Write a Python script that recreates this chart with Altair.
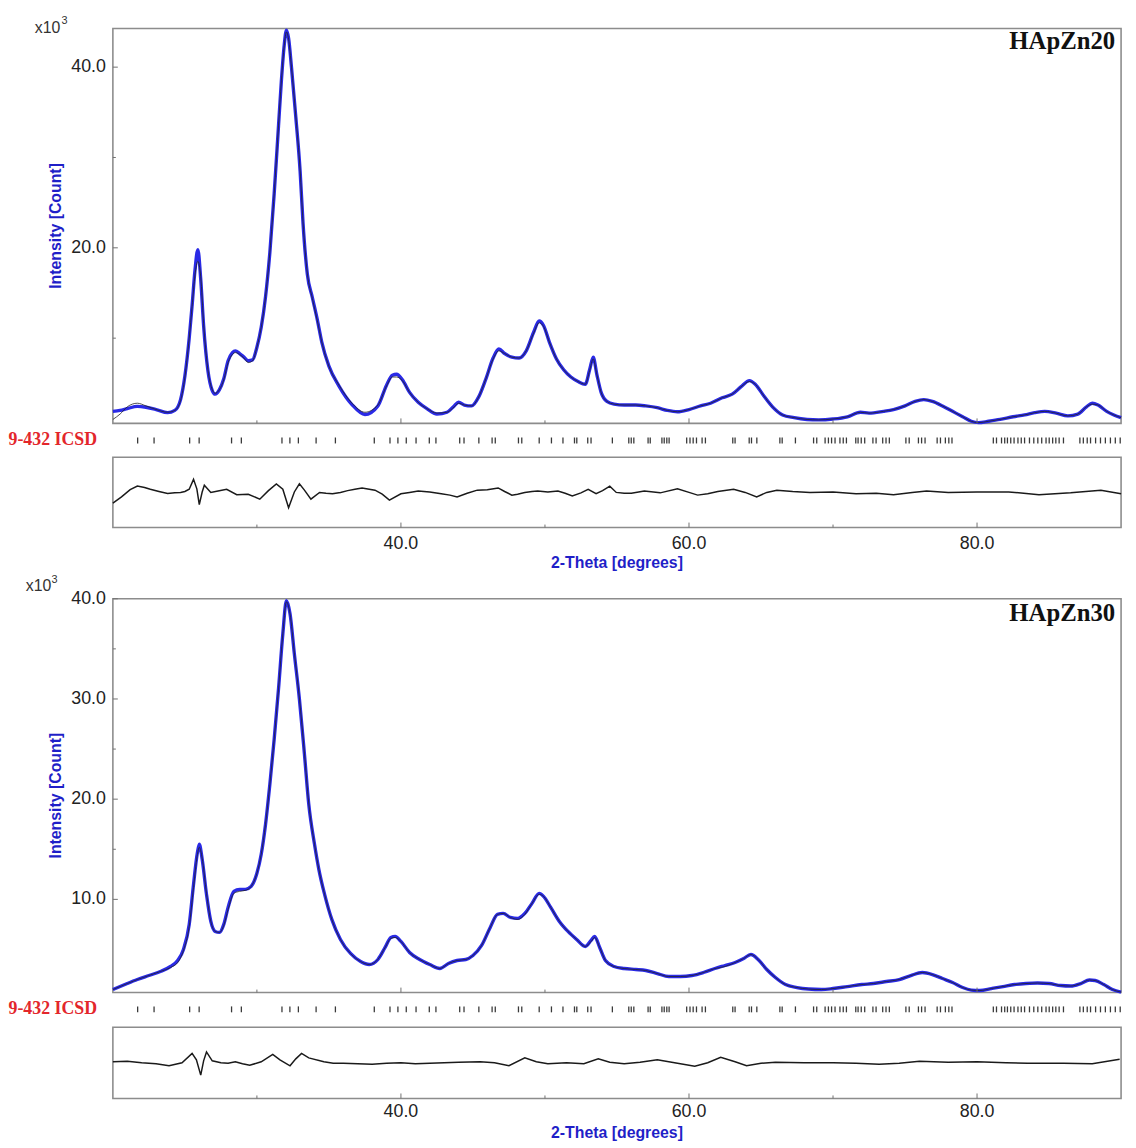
import altair as alt
import pandas as pd

# ---------------- data ----------------
# Panel 1 : HApZn20  (2-theta in degrees, intensity in 10^3 counts)
TT1 = [20.0, 20.5, 21.0, 21.7, 22.3, 23.0, 23.8, 24.3, 24.7, 25.0, 25.3, 25.5, 25.7, 25.9,
       26.1, 26.3, 26.6, 26.9, 27.1, 27.4, 27.7, 28.0, 28.3, 28.5, 28.8, 29.1, 29.4, 29.7,
       30.0, 30.3, 30.6, 30.9, 31.2, 31.5, 31.7, 31.9, 32.05, 32.2, 32.4, 32.7, 33.0, 33.2,
       33.5, 33.85, 34.2, 34.5, 35.0, 35.7, 36.6, 37.5, 38.4, 39.0, 39.4, 39.7, 40.1, 40.6,
       41.2, 41.8, 42.5, 43.2, 43.7, 44.0, 44.4, 44.9, 45.4, 45.9, 46.4, 46.8, 47.2, 47.7,
       48.2, 48.7, 49.2, 49.6, 49.9, 50.3, 50.8, 51.3, 51.8, 52.3, 52.8, 53.1, 53.35, 53.6,
       53.9, 54.3, 54.8, 55.5, 56.3, 57.0, 57.8, 58.5, 59.2, 60.0, 60.8, 61.5, 62.3, 63.0,
       63.6, 64.2, 64.6, 65.2, 65.8, 66.5, 67.3, 68.2, 69.0, 70.0, 71.0, 71.9, 72.5, 73.5,
       74.2, 75.0, 75.7, 76.3, 76.9, 77.6, 78.3, 79.0, 79.6, 80.1, 80.8, 81.6, 82.5, 83.3,
       84.0, 84.7, 85.5, 86.3, 87.0, 87.6, 88.0, 88.4, 89.0, 89.5, 90.0]
OBS1 = [1.9, 2.0, 2.2, 2.45, 2.35, 2.1, 1.75, 2.0, 3.2, 5.8, 10.0, 13.6, 17.5, 19.8,
        16.5, 11.4, 6.4, 4.2, 3.8, 4.3, 5.5, 7.5, 8.4, 8.6, 8.3, 7.9, 7.5, 7.6,
        9.0, 11.2, 14.6, 19.5, 26.0, 33.5, 38.5, 42.5, 44.1, 43.2, 40.0, 34.5, 28.5, 22.8,
        17.1, 14.5, 12.0, 9.6, 6.9, 4.7, 2.65, 1.55, 2.5, 4.8, 5.9, 6.0, 5.4, 4.0,
        2.9, 2.2, 1.6, 1.8, 2.5, 2.9, 2.6, 2.5, 3.5, 5.5, 7.8, 8.8, 8.3, 7.9,
        7.8, 8.6, 10.6, 11.9, 11.4, 9.6, 7.7, 6.5, 5.7, 5.2, 4.9, 6.5, 7.9, 6.0,
        4.0, 3.0, 2.7, 2.6, 2.6, 2.5, 2.3, 2.0, 1.85, 2.1, 2.5, 2.8, 3.4, 3.8,
        4.6, 5.3, 4.9, 3.6, 2.4, 1.5, 1.2, 1.0, 0.95, 1.05, 1.3, 1.8, 1.7, 1.9,
        2.1, 2.5, 3.0, 3.2, 3.0, 2.5, 1.9, 1.3, 0.8, 0.65, 0.8, 1.0, 1.3, 1.5,
        1.75, 1.9, 1.7, 1.4, 1.6, 2.4, 2.8, 2.6, 1.9, 1.5, 1.2]
CALC1 = [1.0, 1.6, 2.4, 2.8, 2.5, 2.1, 1.8, 2.0, 3.1, 5.7, 10.0, 13.5, 17.0, 18.5,
         16.8, 11.6, 6.5, 4.3, 3.9, 4.3, 5.4, 7.3, 8.2, 8.4, 8.2, 7.8, 7.3, 7.5,
         9.0, 11.2, 14.6, 19.5, 26.0, 33.5, 38.5, 42.4, 43.9, 43.1, 40.0, 34.6, 28.6, 22.9,
         17.2, 14.4, 11.9, 9.6, 6.9, 4.8, 2.8, 1.8, 2.6, 4.7, 5.7, 5.7, 5.3, 4.0,
         2.9, 2.2, 1.7, 1.8, 2.4, 2.8, 2.6, 2.5, 3.5, 5.5, 7.7, 8.6, 8.3, 7.9,
         7.8, 8.6, 10.5, 11.7, 11.3, 9.6, 7.7, 6.5, 5.7, 5.2, 4.9, 6.4, 7.7, 6.0,
         4.0, 3.0, 2.7, 2.6, 2.6, 2.5, 2.3, 2.0, 1.85, 2.1, 2.5, 2.8, 3.4, 3.8,
         4.6, 5.2, 4.9, 3.6, 2.4, 1.5, 1.2, 1.0, 0.95, 1.05, 1.3, 1.8, 1.7, 1.9,
         2.1, 2.5, 3.0, 3.2, 3.0, 2.5, 1.9, 1.3, 0.8, 0.65, 0.8, 1.0, 1.3, 1.5,
         1.75, 1.9, 1.7, 1.4, 1.6, 2.4, 2.7, 2.6, 1.9, 1.5, 1.2]
DTT1 = [20.0, 20.6, 21.2, 21.7, 22.2, 22.6, 23.2, 23.8, 24.3, 24.7, 25.0, 25.3, 25.6, 25.83,
        26.0, 26.2, 26.35, 26.8, 27.3, 27.9, 28.6, 29.4, 30.2, 30.8, 31.35, 31.8, 32.2,
        32.6, 32.95, 33.3, 33.75, 34.35, 34.8, 35.25, 35.8, 36.3, 36.8, 37.3, 38.2, 38.7,
        39.2, 40.0, 40.6, 41.2, 42.0, 42.8, 43.4, 43.9, 44.6, 45.3, 46.0, 46.75, 47.2, 47.7,
        48.1, 48.6, 49.1, 49.5, 50.2, 50.9, 51.4, 51.9, 52.5, 53.0, 53.55, 54.0, 54.5,
        54.95, 55.5, 56.0, 56.9, 58.0, 59.2, 60.0, 60.6, 61.3, 62.0, 63.1, 63.9, 64.7,
        65.4, 66.1, 67.2, 68.4, 70.0, 71.6, 73.0, 74.2, 75.5, 76.5, 78.0, 80.0, 82.2,
        84.3, 86.5, 88.6, 90.0]
DIFF1 = [-1.2, -0.5, 0.3, 0.7, 0.55, 0.35, 0.1, -0.13, -0.05, 0.0, 0.1, 0.35, 1.45, 0.4,
         -1.35, 0.05, 0.8, 0.0, 0.15, 0.35, -0.25, -0.2, -0.75, 0.2, 0.95, 0.35, -1.7,
         0.05, 0.95, 0.25, -0.75, 0.0, -0.1, -0.15, 0.0, 0.2, 0.35, 0.5, 0.25, -0.2,
         -0.85, -0.15, 0.0, 0.15, 0.05, -0.15, -0.3, -0.5, -0.1, 0.25, 0.3, 0.5, 0.1, -0.3,
         -0.2, 0.0, 0.1, 0.15, 0.05, 0.15, -0.1, -0.4, -0.05, 0.35, -0.15, 0.2, 0.7,
         0.0, -0.1, -0.1, 0.15, -0.05, 0.4, 0.0, -0.3, -0.15, 0.1, 0.35, 0.0, -0.5,
         0.0, 0.25, 0.1, 0.0, 0.05, -0.15, -0.1, -0.25, 0.0, 0.15, 0.0, 0.05, 0.05,
         -0.25, -0.05, 0.25, -0.15]

# Panel 2 : HApZn30
TT2 = [20.0, 20.5, 21.0, 21.7, 22.5, 23.3, 24.0, 24.5, 24.9, 25.3, 25.6, 25.85, 26.0,
       26.2, 26.5, 26.8, 27.1, 27.4, 27.7, 28.0, 28.4, 28.8, 29.2, 29.6, 30.0, 30.3,
       30.6, 30.9, 31.2, 31.5, 31.8, 32.05, 32.3, 32.6, 32.95, 33.3, 33.6, 34.0, 34.3,
       34.7, 35.2, 35.8, 36.5, 37.2, 37.8, 38.4, 38.9, 39.3, 39.6, 40.0, 40.6, 41.3,
       42.0, 42.7, 43.3, 43.9, 44.5, 45.0, 45.6, 46.2, 46.7, 47.1, 47.6, 48.1, 48.6,
       49.1, 49.6, 49.9, 50.4, 51.0, 51.6, 52.2, 52.8, 53.2, 53.45, 53.8, 54.2, 54.8,
       55.5, 56.3, 57.0, 57.8, 58.6, 59.4, 60.2, 61.0, 61.8, 62.5, 63.2, 63.8, 64.3,
       64.8, 65.4, 66.0, 66.7, 67.5, 68.3, 69.2, 70.0, 71.0, 72.0, 72.8, 73.7, 74.6,
       75.4, 76.2, 76.9, 77.6, 78.3, 79.0, 79.6, 80.2, 81.0, 81.8, 82.6, 83.4, 84.2,
       85.0, 85.8, 86.5, 87.2, 87.8, 88.2, 88.8, 89.4, 90.0]
OBS2 = [1.0, 1.3, 1.6, 2.0, 2.4, 2.8, 3.3, 3.9, 5.0, 7.5, 11.5, 14.5, 15.5,
        14.0, 10.5, 7.8, 6.8, 6.7, 7.5, 9.2, 10.8, 11.0, 11.0, 11.3, 12.6, 14.5,
        17.5, 21.5, 26.0, 31.0, 36.5, 39.8, 38.5, 34.5, 30.0, 24.5, 19.5, 15.5, 13.0,
        10.5, 8.0, 6.0, 4.6, 3.8, 3.5, 4.0, 5.2, 6.2, 6.3, 5.8, 4.7, 4.0,
        3.5, 3.1, 3.6, 3.9, 4.0, 4.4, 5.4, 7.2, 8.5, 8.6, 8.2, 8.1, 8.6,
        9.6, 10.6, 10.3, 9.2, 7.8, 6.8, 6.0, 5.3, 5.9, 6.3, 5.2, 3.9, 3.3,
        3.1, 3.0, 2.9, 2.6, 2.3, 2.3, 2.4, 2.7, 3.1, 3.4, 3.7, 4.1, 4.5,
        4.0, 3.0, 2.2, 1.5, 1.2, 1.05, 1.0, 1.1, 1.3, 1.5, 1.6, 1.8, 2.0,
        2.4, 2.7, 2.5, 2.1, 1.7, 1.2, 0.95, 0.9, 1.1, 1.3, 1.5, 1.6, 1.65,
        1.6, 1.4, 1.35, 1.6, 1.95, 1.9, 1.5, 1.0, 0.75]
CALC2 = [1.0, 1.3, 1.6, 2.0, 2.4, 2.8, 3.2, 3.7, 4.9, 7.3, 11.2, 14.3, 15.2,
         14.1, 10.6, 7.8, 6.8, 6.7, 7.4, 9.0, 10.6, 10.8, 10.9, 11.3, 12.6, 14.5,
         17.5, 21.5, 26.0, 31.0, 36.5, 39.7, 38.5, 34.6, 30.1, 24.6, 19.6, 15.5, 13.0,
         10.5, 8.0, 6.0, 4.6, 3.8, 3.5, 4.0, 5.2, 6.1, 6.2, 5.8, 4.7, 4.0,
         3.5, 3.1, 3.6, 3.9, 4.0, 4.4, 5.4, 7.2, 8.5, 8.6, 8.2, 8.0, 8.5,
         9.6, 10.5, 10.3, 9.2, 7.8, 6.8, 6.0, 5.3, 5.8, 6.2, 5.2, 3.9, 3.3,
         3.1, 3.0, 2.9, 2.6, 2.3, 2.3, 2.4, 2.7, 3.1, 3.3, 3.7, 4.1, 4.5,
         4.0, 3.0, 2.2, 1.5, 1.2, 1.05, 1.0, 1.1, 1.3, 1.5, 1.6, 1.8, 2.0,
         2.4, 2.7, 2.5, 2.1, 1.7, 1.2, 0.95, 0.9, 1.1, 1.3, 1.5, 1.6, 1.65,
         1.6, 1.4, 1.35, 1.6, 1.95, 1.9, 1.5, 1.0, 0.75]
DTT2 = [20.0, 21.0, 22.0, 23.0, 23.9, 24.8, 25.5, 25.8, 26.1, 26.3, 26.5, 26.9, 27.5,
        28.0, 28.5, 29.0, 29.5, 30.3, 31.1, 31.6, 32.3, 32.7, 33.1, 33.6, 34.65, 35.3,
        36.0, 37.0, 38.0, 39.0, 40.0, 41.0, 42.0, 43.0, 44.0, 45.5, 46.5, 47.5, 48.6,
        49.4, 50.2, 51.5, 52.7, 53.7, 54.5, 55.5, 56.6, 57.8, 59.0, 60.4, 61.3, 62.2,
        63.2, 64.0, 65.0, 66.0, 68.0, 70.0, 71.6, 73.2, 74.6, 76.0, 78.0, 80.0, 82.0,
        83.5, 86.0, 88.0, 89.9]
DIFF2 = [0.1, 0.15, 0.0, -0.1, -0.3, 0.0, 0.95, 0.3, -1.25, 0.2, 1.1, 0.2, 0.0,
         -0.05, 0.1, -0.1, -0.25, 0.1, 0.85, 0.3, -0.3, 0.4, 0.95, 0.5, 0.1, -0.05,
         -0.05, -0.1, -0.15, -0.05, 0.0, -0.1, -0.05, 0.0, 0.05, 0.1, 0.0, -0.3, 0.5,
         0.1, -0.1, 0.0, -0.1, 0.4, 0.05, -0.1, 0.05, 0.3, 0.0, -0.35, 0.0, 0.55,
         0.1, -0.3, -0.05, 0.05, 0.0, 0.0, -0.05, -0.15, -0.05, 0.15, 0.05, 0.1, 0.0,
         -0.05, -0.05, -0.1, 0.35]

# ICSD 9-432 reflection positions (2-theta)
REFL = [21.72, 22.86, 25.33, 25.99, 28.24, 28.92, 31.74, 32.29, 32.88, 34.11, 35.45,
        38.15, 39.24, 39.79, 40.37, 41.05, 41.97, 42.43, 44.08, 44.38, 45.41, 46.33,
        46.55, 48.16, 48.39, 49.60, 50.45, 51.25, 52.05, 52.21, 52.97, 53.20, 54.68,
        55.82, 55.99, 56.17, 57.16, 57.31, 58.12, 58.28, 58.46, 58.62, 59.84, 60.07,
        60.29, 60.52, 60.91, 61.14, 63.04, 63.20, 64.18, 64.34, 64.71, 66.31, 66.47,
        67.39, 68.65, 68.87, 69.45, 69.68, 69.90, 70.14, 70.48, 70.71, 70.93, 71.58,
        71.74, 71.96, 72.20, 72.77, 72.99, 73.45, 73.68, 73.91, 75.06, 75.29, 75.93,
        76.15, 76.39, 77.23, 77.46, 77.80, 78.04, 78.26, 81.13, 81.35, 81.70, 81.92,
        82.11, 82.34, 82.57, 82.84, 83.07, 83.30, 83.64, 83.94, 84.22, 84.49, 84.79,
        85.01, 85.25, 85.47, 85.70, 86.00, 87.14, 87.38, 87.65, 87.88, 88.23, 88.57,
        88.91, 89.26, 89.60, 89.94]

X_DOMAIN = [20, 90]
X_MAJOR = [40, 60, 80]
X_MINOR = [30, 50, 70]
Y1_DOMAIN = [0.57, 44.27]
Y1_MAJOR = [20, 40]
Y1_MINOR = [10, 30]
Y2_DOMAIN = [0.7, 40.0]
Y2_MAJOR = [10, 20, 30, 40]
Y2_MINOR = [15, 25, 35]
D1_DOMAIN = [-3.9, 3.9]
D2_DOMAIN = [-3.6, 3.6]
SAMPLES = ["HApZn20", "HApZn30"]
REF_LABEL = "9-432 ICSD"
Y_TITLE = "Intensity [Count]"
X_TITLE = "2-Theta [degrees]"
MULT = "x10"
MULT_EXP = "3"

# ---------------- layout (pixels inside the drawing area) ----------------
W, H = 1120, 1132
X_RANGE = [104, 1123]
P1 = dict(main=(412.7, 13.7), row=430, diff=(518, 447), lab=535, title=554,
          mult=(25, 13), exp=(52, 5.7), name_y=14)
P2 = dict(main=(988, 590), row=1005, diff=(1095, 1023), lab=1109, title=1130,
          mult=(16, 577), exp=(42, 571.5), name_y=592)

BLUE_LINE = "#2a2ae6"
BLUE_TEXT = "#1f1fc8"
FRAME = "#8c8c8c"
TICK = "#707070"
SANS = "Liberation Sans"
SERIF = "Liberation Serif"

xscale = alt.Scale(domain=X_DOMAIN, range=X_RANGE, nice=False, zero=False)
X_MID = (X_RANGE[0] + X_RANGE[1]) / 2


def tdf(s):
    return pd.DataFrame({"t": [s]})


def xq(field):
    return alt.X(field, scale=xscale, axis=None)


def frame(dom, rng):
    ys = alt.Scale(domain=dom, range=list(rng), nice=False, zero=False)
    df = pd.DataFrame({"x0": [X_DOMAIN[0]], "x1": [X_DOMAIN[1]], "y0": [dom[0]], "y1": [dom[1]]})
    return alt.Chart(df).mark_rect(filled=False, stroke=FRAME, strokeWidth=1.6).encode(
        x=xq("x0:Q"), x2="x1:Q", y=alt.Y("y0:Q", scale=ys, axis=None), y2="y1:Q")


def x_ticks(bottom):
    maj = alt.Chart(pd.DataFrame({"v": X_MAJOR})).mark_rule(color=TICK, strokeWidth=1).encode(
        x=xq("v:Q"), y=alt.value(bottom), y2=alt.value(bottom - 5))
    mino = alt.Chart(pd.DataFrame({"v": X_MINOR})).mark_rule(color=TICK, strokeWidth=1).encode(
        x=xq("v:Q"), y=alt.value(bottom), y2=alt.value(bottom - 3))
    return [maj, mino]


def panel(P, tt, obs, calc, ydom, ymaj, ymin, dtt, diff, ddom, label):
    ys = alt.Scale(domain=ydom, range=list(P["main"]), nice=False, zero=False)
    ds = alt.Scale(domain=ddom, range=list(P["diff"]), nice=False, zero=False)
    df = pd.DataFrame({"tt": tt, "obs": obs, "calc": calc})
    L = [frame(ydom, P["main"]), frame(ddom, P["diff"])]
    L.append(alt.Chart(df).mark_line(color=BLUE_LINE, strokeWidth=3.4, interpolate="monotone")
             .encode(x=xq("tt:Q"), y=alt.Y("obs:Q", scale=ys, axis=None)))
    L.append(alt.Chart(df).mark_line(color="#222222", strokeWidth=0.8, interpolate="monotone")
             .encode(x=xq("tt:Q"), y=alt.Y("calc:Q", scale=ys, axis=None)))
    L.append(alt.Chart(pd.DataFrame({"tt": dtt, "d": diff}))
             .mark_line(color="#1a1a1a", strokeWidth=1.5)
             .encode(x=xq("tt:Q"), y=alt.Y("d:Q", scale=ds, axis=None)))
    # inward ticks
    L += x_ticks(P["main"][0]) + x_ticks(P["diff"][0])
    L.append(alt.Chart(pd.DataFrame({"v": ymaj})).mark_rule(color=TICK, strokeWidth=1).encode(
        y=alt.Y("v:Q", scale=ys, axis=None), x=alt.value(X_RANGE[0]), x2=alt.value(X_RANGE[0] + 5)))
    L.append(alt.Chart(pd.DataFrame({"v": ymin})).mark_rule(color=TICK, strokeWidth=1).encode(
        y=alt.Y("v:Q", scale=ys, axis=None), x=alt.value(X_RANGE[0]), x2=alt.value(X_RANGE[0] + 3)))
    # y tick labels and title
    L.append(alt.Chart(pd.DataFrame({"v": ymaj})).mark_text(
        align="right", baseline="middle", font=SANS, fontSize=18, color="#222222").encode(
        y=alt.Y("v:Q", scale=ys, axis=None), x=alt.value(X_RANGE[0] - 7),
        text=alt.Text("v:Q", format=".1f")))
    L.append(alt.Chart(tdf(Y_TITLE)).mark_text(
        angle=270, align="center", baseline="middle", font=SANS, fontSize=16,
        fontWeight="bold", color=BLUE_TEXT).encode(
        x=alt.value(X_RANGE[0] - 57), y=alt.value((P["main"][0] + P["main"][1]) / 2), text="t:N"))
    # x tick labels and title under the difference plot
    L.append(alt.Chart(pd.DataFrame({"v": X_MAJOR})).mark_text(
        align="center", baseline="middle", font=SANS, fontSize=18, color="#222222").encode(
        x=xq("v:Q"), y=alt.value(P["lab"]), text=alt.Text("v:Q", format=".1f")))
    L.append(alt.Chart(tdf(X_TITLE)).mark_text(
        align="center", baseline="middle", font=SANS, fontSize=16, fontWeight="bold",
        color=BLUE_TEXT).encode(x=alt.value(X_MID), y=alt.value(P["title"]), text="t:N"))
    # reference reflection markers
    L.append(alt.Chart(pd.DataFrame({"tt": REFL})).mark_rule(color="#3a3a3a", strokeWidth=1.3).encode(
        x=xq("tt:Q"), y=alt.value(P["row"] - 3), y2=alt.value(P["row"] + 3)))
    L.append(alt.Chart(tdf(REF_LABEL)).mark_text(
        align="right", baseline="middle", font=SERIF, fontSize=18, fontWeight="bold",
        color="#e3262b").encode(x=alt.value(X_RANGE[0] - 16), y=alt.value(P["row"]), text="t:N"))
    # sample name and multiplier
    L.append(alt.Chart(tdf(label)).mark_text(
        align="right", baseline="top", font=SERIF, fontSize=25, fontWeight="bold",
        color="#111111").encode(x=alt.value(X_RANGE[1] - 6), y=alt.value(P["name_y"]), text="t:N"))
    L.append(alt.Chart(tdf(MULT)).mark_text(
        align="left", baseline="middle", font=SANS, fontSize=16, color="#333333").encode(
        x=alt.value(P["mult"][0]), y=alt.value(P["mult"][1]), text="t:N"))
    L.append(alt.Chart(tdf(MULT_EXP)).mark_text(
        align="left", baseline="middle", font=SANS, fontSize=11, color="#333333").encode(
        x=alt.value(P["exp"][0]), y=alt.value(P["exp"][1]), text="t:N"))
    return L


layers = (panel(P1, TT1, OBS1, CALC1, Y1_DOMAIN, Y1_MAJOR, Y1_MINOR, DTT1, DIFF1, D1_DOMAIN, SAMPLES[0])
          + panel(P2, TT2, OBS2, CALC2, Y2_DOMAIN, Y2_MAJOR, Y2_MINOR, DTT2, DIFF2, D2_DOMAIN, SAMPLES[1]))

chart = alt.layer(*layers).resolve_scale(y="independent").properties(
    width=W, height=H, padding=0
).configure(background="white").configure_view(stroke="transparent", strokeWidth=0)

chart.save("out.html", embed_options={"renderer": "svg", "actions": False})
